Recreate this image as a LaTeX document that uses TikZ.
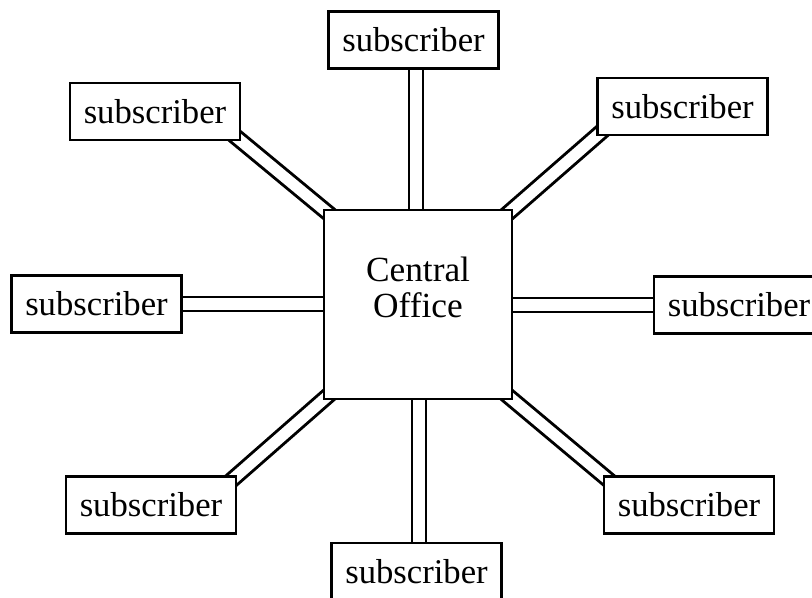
\documentclass[tikz,border=0pt]{standalone}
\usepackage{fontspec}
\setmainfont{Liberation Serif}
\pgfdeclarelayer{bg}
\pgfsetlayers{bg,main}
\tikzset{
  sub/.style={draw, line width=2.2pt, fill=white, minimum width=170*0.75pt, minimum height=57*0.75pt, inner sep=0pt, font=\fontsize{26}{30}\selectfont},
  cobox/.style={draw, line width=2.2pt, fill=white, minimum width=188*0.75pt, minimum height=189*0.75pt, inner sep=0pt},
  cotext/.style={align=center, font=\fontsize{26.5}{27}\selectfont},
  wire/.style={draw=black, line width=2.2pt, double=white, double distance=8.3pt},
  dwire/.style={wire, shorten <=-8pt, shorten >=-8pt}
}
\begin{document}
\begin{tikzpicture}[x=0.75pt, y=-0.75pt]
\useasboundingbox (0,0) rectangle (812,597);
\node[cobox] (co) at (418,304.5) {};
\node[cotext] (cot) at (418,287) {Central\\Office};
\node[sub] (top) at (413.5,40) {subscriber};
\node[sub] (bot) at (416.5,571.5) {subscriber};
\node[sub] (lef) at (96.5,304) {subscriber};
\node[sub] (rig) at (739,305) {subscriber};
\node[sub] (tl) at (155,111.5) {subscriber};
\node[sub] (tr) at (682.5,106.5) {subscriber};
\node[sub] (bl) at (151,505) {subscriber};
\node[sub] (br) at (689,505) {subscriber};
\begin{pgfonlayer}{bg}
\draw[wire] ([xshift=2.5*0.75pt]top.south) -- ([xshift=2.5*0.75pt]top.south |- co.north);
\draw[wire] ([xshift=2.5*0.75pt]bot.north) -- ([xshift=2.5*0.75pt]bot.north |- co.south);
\draw[wire] (lef.east) -- (lef.east -| co.west);
\draw[wire] (rig.west) -- (rig.west -| co.east);
\draw[dwire] (tl.south east) -- (co.north west);
\draw[dwire] (tr.south west) -- (co.north east);
\draw[dwire] (bl.north east) -- (co.south west);
\draw[dwire] (br.north west) -- (co.south east);
\end{pgfonlayer}
\end{tikzpicture}
\end{document}
